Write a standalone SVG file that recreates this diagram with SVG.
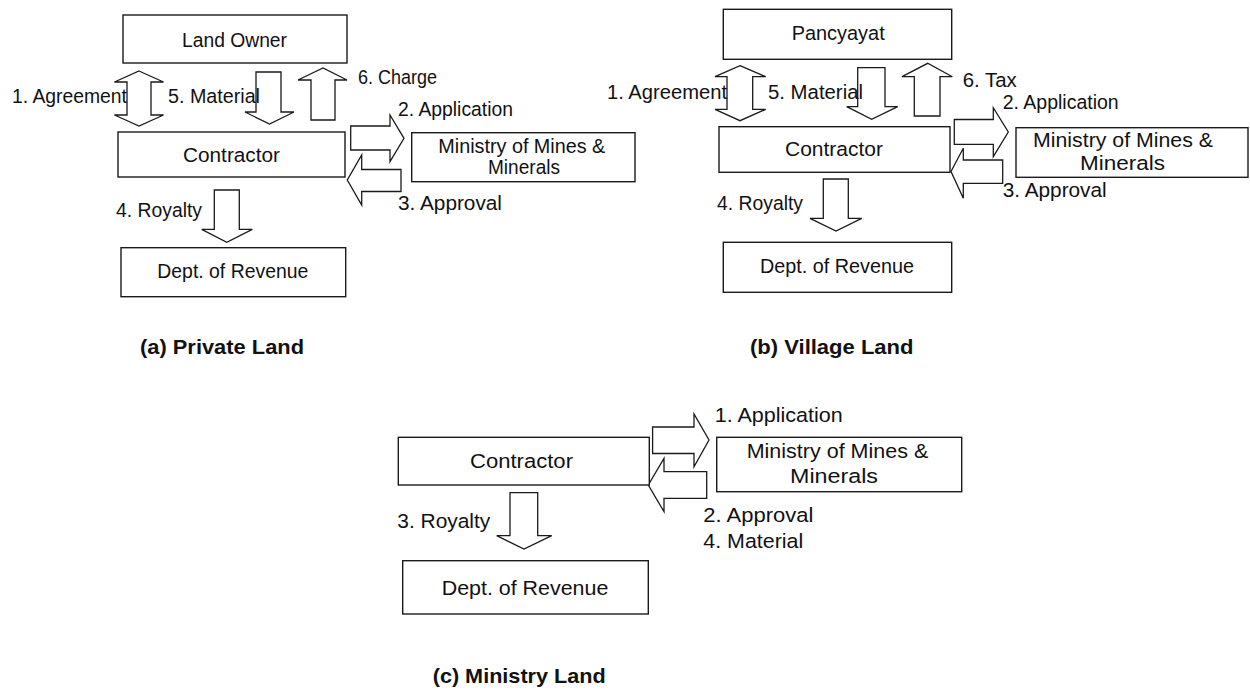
<svg xmlns="http://www.w3.org/2000/svg" width="1250" height="692" viewBox="0 0 1250 692">
  <style>
    .box { fill: #ffffff; stroke: #1a1a1a; stroke-width: 1.4; }
    .arrow { fill: #ffffff; stroke: #1a1a1a; stroke-width: 1.3; stroke-linejoin: miter; }
    .t { font-family: "Liberation Sans", Arial, sans-serif; font-size: 20.5px; fill: #111111; }
    .cap { font-family: "Liberation Sans", Arial, sans-serif; font-size: 20.5px; font-weight: bold; fill: #111111; }
  </style>
  <rect width="1250" height="692" fill="#ffffff"/>

  <!-- block arrows and their labels -->
  <g id="connectors">
    <!-- (a) private land -->
    <polygon class="arrow" points="139,71 163.5,82 151,82 151,115 163.5,115 139,126 114.5,115 127,115 127,82 114.5,82"/>
    <polygon class="arrow" points="256,72 281,72 281,112 294,112 269.5,124 245,112 256,112"/>
    <polygon class="arrow" points="311,120 335,120 335,80 347,80 323,68 298,80 311,80"/>
    <polygon class="arrow" points="350.7,126 390,126 390,115 404,138.3 390,161.7 390,150 350.7,150"/>
    <polygon class="arrow" points="401,169.5 361.7,169.5 361.7,155 347.3,180 361.7,205 361.7,191.5 401,191.5"/>
    <polygon class="arrow" points="214.3,190 239.3,190 239.3,229.3 252.3,229.3 226.8,242.3 201.7,229.3 214.3,229.3"/>
    <text class="t" x="12" y="103" textLength="115" lengthAdjust="spacingAndGlyphs">1. Agreement</text>
    <text class="t" x="168" y="103" textLength="92" lengthAdjust="spacingAndGlyphs">5. Material</text>
    <text class="t" x="358" y="84" textLength="79" lengthAdjust="spacingAndGlyphs">6. Charge</text>
    <text class="t" x="398" y="116" textLength="115" lengthAdjust="spacingAndGlyphs">2. Application</text>
    <text class="t" x="398" y="210" textLength="104" lengthAdjust="spacingAndGlyphs">3. Approval</text>
    <text class="t" x="116" y="216.7" textLength="86" lengthAdjust="spacingAndGlyphs">4. Royalty</text>

    <!-- (b) village land -->
    <polygon class="arrow" points="740,65.7 765.7,76.7 752.7,76.7 752.7,109.3 765.7,109.3 740,120.7 715,109.3 727,109.3 727,76.7 715,76.7"/>
    <polygon class="arrow" points="857.7,67.7 885,67.7 885,106.7 897.7,106.7 871.7,119.3 846.7,106.7 857.7,106.7"/>
    <polygon class="arrow" points="914.3,116 940,116 940,76.7 952.3,76.7 927.7,63.3 902,76.7 914.3,76.7"/>
    <polygon class="arrow" points="954.3,119.5 993.3,119.5 993.3,107.7 1008.3,132 993.3,156.7 993.3,144.3 954.3,144.3"/>
    <polygon class="arrow" points="1002.7,160 963.3,160 963.3,148.3 951,171.5 963.3,198.3 963.3,183.3 1002.7,183.3"/>
    <polygon class="arrow" points="823.3,179 848.3,179 848.3,218.3 861.7,218.3 836,231 810,218.3 823.3,218.3"/>
    <text class="t" x="607" y="99.3" textLength="120" lengthAdjust="spacingAndGlyphs">1. Agreement</text>
    <text class="t" x="768" y="99.3" textLength="95" lengthAdjust="spacingAndGlyphs">5. Material</text>
    <text class="t" x="962.7" y="87" textLength="54" lengthAdjust="spacingAndGlyphs">6. Tax</text>
    <text class="t" x="1002.7" y="109.3" textLength="116" lengthAdjust="spacingAndGlyphs">2. Application</text>
    <text class="t" x="1002.7" y="196.7" textLength="104" lengthAdjust="spacingAndGlyphs">3. Approval</text>
    <text class="t" x="717" y="210" textLength="86" lengthAdjust="spacingAndGlyphs">4. Royalty</text>

    <!-- (c) ministry land -->
    <polygon class="arrow" points="652.6,427 694,427 694,414 709,440 694,466.7 694,453.5 652.6,453.5"/>
    <polygon class="arrow" points="706.7,471.7 664,471.7 664,458.3 648.3,485 664,511.7 664,498.3 706.7,498.3"/>
    <polygon class="arrow" points="510,492.7 537.7,492.7 537.7,535.7 551.7,535.7 524,549 496.7,535.7 510,535.7"/>
    <text class="t" x="714.7" y="421.7" textLength="128" lengthAdjust="spacingAndGlyphs">1. Application</text>
    <text class="t" x="703.3" y="521.7" textLength="110" lengthAdjust="spacingAndGlyphs">2. Approval</text>
    <text class="t" x="703.3" y="548.3" textLength="100" lengthAdjust="spacingAndGlyphs">4. Material</text>
    <text class="t" x="397.3" y="528.3" textLength="93" lengthAdjust="spacingAndGlyphs">3. Royalty</text>
  </g>

  <!-- (a) private land -->
  <g id="a-land-owner">
    <rect class="box" x="123" y="15" width="224" height="48"/>
    <text class="t" x="182" y="47" textLength="105" lengthAdjust="spacingAndGlyphs">Land Owner</text>
  </g>
  <g id="a-contractor">
    <rect class="box" x="118" y="132" width="227" height="45"/>
    <text class="t" x="183" y="162" textLength="97" lengthAdjust="spacingAndGlyphs">Contractor</text>
  </g>
  <g id="a-ministry">
    <rect class="box" x="411.7" y="132.7" width="223.3" height="49"/>
    <text class="t" x="438.3" y="153.3" textLength="167" lengthAdjust="spacingAndGlyphs">Ministry of Mines &amp;</text>
    <text class="t" x="488" y="174.3" textLength="72" lengthAdjust="spacingAndGlyphs">Minerals</text>
  </g>
  <g id="a-revenue">
    <rect class="box" x="121" y="247.7" width="224.7" height="49"/>
    <text class="t" x="157.3" y="278.3" textLength="151" lengthAdjust="spacingAndGlyphs">Dept. of Revenue</text>
  </g>

  <!-- (b) village land -->
  <g id="b-pancyayat">
    <rect class="box" x="723.3" y="9.3" width="228.4" height="50"/>
    <text class="t" x="791.7" y="40" textLength="93" lengthAdjust="spacingAndGlyphs">Pancyayat</text>
  </g>
  <g id="b-contractor">
    <rect class="box" x="719" y="126.7" width="231" height="45.6"/>
    <text class="t" x="785" y="156" textLength="98" lengthAdjust="spacingAndGlyphs">Contractor</text>
  </g>
  <g id="b-ministry">
    <rect class="box" x="1016" y="127.7" width="232" height="49.6"/>
    <text class="t" x="1033" y="146.7" textLength="180" lengthAdjust="spacingAndGlyphs">Ministry of Mines &amp;</text>
    <text class="t" x="1080" y="170" textLength="85" lengthAdjust="spacingAndGlyphs">Minerals</text>
  </g>
  <g id="b-revenue">
    <rect class="box" x="723.3" y="242.3" width="228.4" height="50"/>
    <text class="t" x="760" y="273.3" textLength="154" lengthAdjust="spacingAndGlyphs">Dept. of Revenue</text>
  </g>

  <!-- (c) ministry land -->
  <g id="c-contractor">
    <rect class="box" x="398.3" y="437.3" width="251" height="47.7"/>
    <text class="t" x="470" y="468.3" textLength="103" lengthAdjust="spacingAndGlyphs">Contractor</text>
  </g>
  <g id="c-ministry">
    <rect class="box" x="716.7" y="437.3" width="245" height="54.4"/>
    <text class="t" x="746.7" y="458.3" textLength="181.6" lengthAdjust="spacingAndGlyphs">Ministry of Mines &amp;</text>
    <text class="t" x="790" y="482.7" textLength="88" lengthAdjust="spacingAndGlyphs">Minerals</text>
  </g>
  <g id="c-revenue">
    <rect class="box" x="402.7" y="560.7" width="245.6" height="53.3"/>
    <text class="t" x="441.7" y="595" textLength="166.6" lengthAdjust="spacingAndGlyphs">Dept. of Revenue</text>
  </g>

  <!-- panel captions -->
  <text class="cap" x="140" y="354" textLength="164" lengthAdjust="spacingAndGlyphs">(a) Private Land</text>
  <text class="cap" x="750" y="354" textLength="163.5" lengthAdjust="spacingAndGlyphs">(b) Village Land</text>
  <text class="cap" x="432.7" y="683" textLength="173" lengthAdjust="spacingAndGlyphs">(c) Ministry Land</text>
</svg>
